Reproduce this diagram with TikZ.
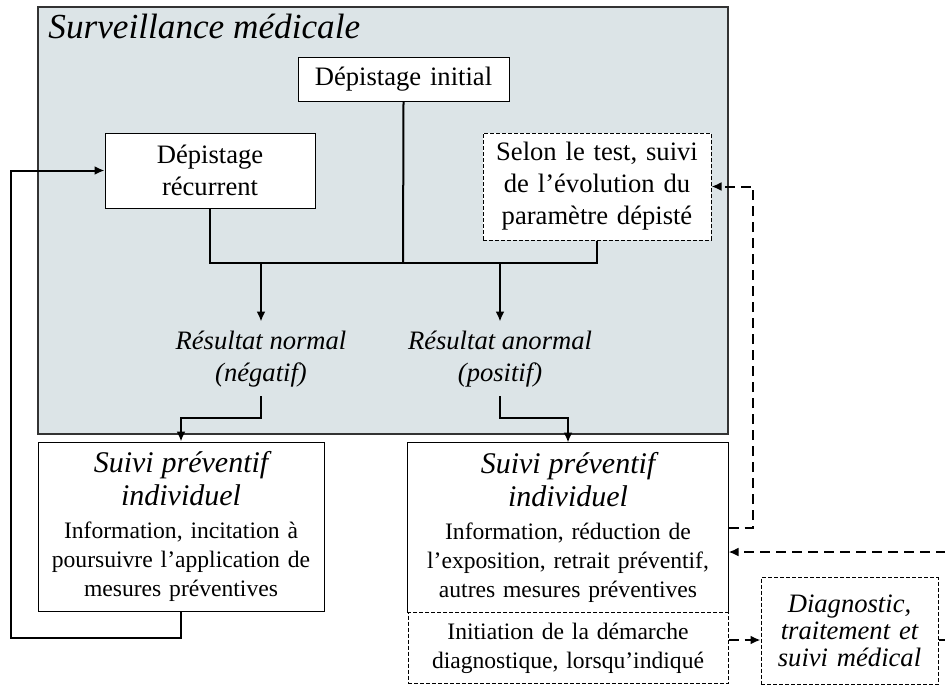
\documentclass[tikz,border=0pt]{standalone}
\usepackage{fontspec}
\setmainfont{Liberation Serif}
\usetikzlibrary{arrows.meta}

\definecolor{survgrey}{RGB}{220,228,231}
\newcommand\titletxt{\fontsize{17.6}{20}\selectfont\itshape}
\newcommand\bigtxt{\fontsize{13.3}{16}\selectfont}
\newcommand\headtxt{\fontsize{15}{16.5}\selectfont\itshape}
\newcommand\smalltxt{\fontsize{11.8}{14.5}\selectfont}
\newcommand\diagtxt{\fontsize{13.3}{13.5}\selectfont\itshape}

\begin{document}
\begin{tikzpicture}[x=0.5pt,y=-0.5pt,
    box/.style={draw, fill=white, line width=0.5pt, align=center, inner sep=0pt, font=\bigtxt},
    dbox/.style={box, dash pattern=on 2pt off 1pt},
    link/.style={line width=1pt},
    arr/.style={link, -{Latex[length=5pt,width=4.5pt]}},
    darr/.style={arr, dash pattern=on 5pt off 3pt}]

    \useasboundingbox (0,0) rectangle (945,686);

    % Surveillance block
    \draw[fill=survgrey, draw=black!80, line width=0.6pt] (38,7) rectangle (728,434);
    \node[font=\titletxt, anchor=base west, inner sep=0pt] (title) at (48,38) {Surveillance médicale};

    \node[box, text width=95pt, minimum width=105.5pt, minimum height=22pt] (init) at (403.5,79) {Dépistage initial};
    \node[box, text width=95pt, minimum width=105pt, minimum height=37.5pt] (rec) at (210,170.5) {Dépistage\\récurrent};
    \node[dbox, text width=106pt, minimum width=114pt, minimum height=53.5pt] (sel) at (597,186.5)
      {Selon le test, suivi\\de l’évolution du\\paramètre dépisté};

    \node[font=\bigtxt\itshape, align=center, inner sep=4.5pt] (normal) at (261,359) {Résultat normal\\(négatif)};
    \node[font=\bigtxt\itshape, align=center, inner sep=4.5pt] (anormal) at (500,359) {Résultat anormal\\(positif)};

    % Tree to the results
    \coordinate (bar) at (403,263);
    \draw[link] (rec.south) |- (bar) -| (sel.south);
    \draw[link] (init.south) -- (bar);
    \draw[arr] (normal.north |- bar) -- (normal.north);
    \draw[arr] (anormal.north |- bar) -- (anormal.north);

    % Follow-up boxes
    \node[box, font=\smalltxt, text width=135pt, minimum width=143pt, minimum height=84.5pt] (prevN) at (181,526.5)
      {{\headtxt Suivi préventif\\individuel\par}\vskip2pt
       Information, incitation à\\poursuivre l’application de\\mesures préventives};
    \node[box, draw=none, font=\smalltxt, text width=152pt, minimum width=160pt, minimum height=84.5pt] (prevA) at (568,527.5)
      {{\headtxt Suivi préventif\\individuel\par}\vskip2pt
       Information, réduction de\\l’exposition, retrait préventif,\\autres mesures préventives};
    \draw[line width=0.5pt] (prevA.south west) |- (prevA.north east) -- (prevA.south east);
    \node[dbox, font=\smalltxt, text width=152pt, minimum width=160pt, minimum height=35.5pt] (initdiag) at (568,648)
      {Initiation de la démarche\\diagnostique, lorsqu’indiqué};
    \node[dbox, font=\diagtxt, text width=82pt, minimum width=88.5pt, minimum height=53.5pt] (diag) at (849.5,631)
      {Diagnostic,\\traitement et\\suivi médical};

    \coordinate (kink) at (0,418);
    \draw[arr] (normal.south) -- (normal.south |- kink) -| (prevN.north);
    \draw[arr] (anormal.south) -- (anormal.south |- kink) -| (prevA.north);

    % Back to recurrent screening
    \coordinate (loopL) at (11,638);
    \draw[arr] (prevN.south) |- (loopL) |- (rec.west);

    % Dashed returns
    \coordinate (backS) at (753,0);
    \draw[darr] (prevA.east) -| (backS |- sel.east) -- (sel.east);
    \coordinate (dline) at (0,640);
    \draw[darr] (initdiag.east |- dline) -- (diag.west |- dline);
    \coordinate (backD) at (962,552);
    \draw[darr] (diag.east |- dline) -| (backD) -- (prevA.east |- backD);

\end{tikzpicture}
\end{document}
